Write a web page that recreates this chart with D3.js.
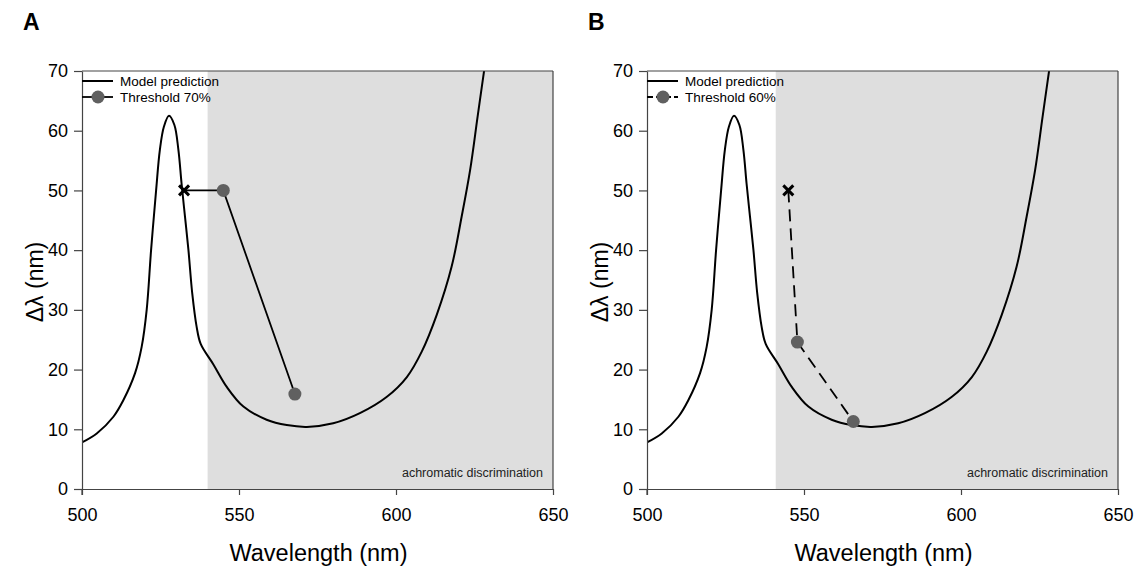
<!DOCTYPE html>
<html>
<head>
<meta charset="utf-8">
<script src="https://cdn.jsdelivr.net/npm/d3@7/dist/d3.min.js"></script>
<style>
  html, body { margin: 0; padding: 0; background: #fff; }
  svg text { font-family: "Liberation Sans", Arial, sans-serif; }
</style>
</head>
<body>
<svg id="chart" width="1140" height="568"></svg>
<script>
// ---------- data ----------
const modelWavelength = [500, 504.7, 510, 513.2, 516.9, 519, 520.6, 522, 523.6, 524.8, 526.1, 527.7, 529.4, 530.7, 531.7, 532.8, 533.9, 535.1, 536.5, 537.8, 541.8, 546.1, 551.4, 558.8, 565.2, 571.6, 580, 588.5, 597, 603.4, 608.2, 613, 617.7, 620.9, 623.6, 626, 628.1];
const modelDelta      = [7.8, 9.3, 12.1, 14.9, 19.4, 23.8, 30, 40, 50, 56.8, 60.7, 62.5, 61, 56.8, 51.2, 45.6, 40, 32.8, 27.2, 24.3, 20.9, 17.1, 13.8, 11.6, 10.7, 10.4, 11.0, 12.7, 15.4, 18.7, 23.0, 29.2, 37.2, 45.6, 53.4, 62.4, 70.2];

const panelLabels = ["A", "B"];
const thresholdLabels = ["Threshold 70%", "Threshold 60%"];
const thresholdWavelengthA = [532.5, 545, 567.8];
const thresholdDeltaA      = [50, 50, 15.9];
const thresholdWavelengthB = [545, 547.9, 565.7];
const thresholdDeltaB      = [50, 24.6, 11.3];
const achromaticStart = [540, 541];

const xTicks = [500, 550, 600, 650];
const yTicks = [0, 10, 20, 30, 40, 50, 60, 70];

// ---------- layout ----------
const svg = d3.select("#chart");
const W = 471, H = 418;
const panels = [
  { left: 82, top: 71, label: panelLabels[0], thr: thresholdLabels[0],
    wl: thresholdWavelengthA, dl: thresholdDeltaA, shade: achromaticStart[0], dashed: false },
  { left: 647, top: 71, label: panelLabels[1], thr: thresholdLabels[1],
    wl: thresholdWavelengthB, dl: thresholdDeltaB, shade: achromaticStart[1], dashed: true }
];

const x = d3.scaleLinear().domain([500, 650]).range([0, W]);
const y = d3.scaleLinear().domain([0, 70]).range([H, 0]);
const model = modelWavelength.map((w, i) => [w, modelDelta[i]]);

const defs = svg.append("defs");
defs.append("clipPath").attr("id", "plotclip")
  .append("rect").attr("x", 0).attr("y", 0).attr("width", W).attr("height", H);

const axisColor = "#444";

panels.forEach((p, pi) => {
  const g = svg.append("g").attr("transform", `translate(${p.left},${p.top})`);

  // panel letter
  svg.append("text").attr("x", p.left - 59).attr("y", 30)
    .attr("font-size", 23).attr("font-weight", "bold").attr("fill", "#000")
    .text(p.label);

  // shaded region
  g.append("rect")
    .attr("x", x(p.shade)).attr("y", 0)
    .attr("width", x(650) - x(p.shade)).attr("height", H)
    .attr("fill", "#dedede");

  g.append("text")
    .attr("x", W - 10).attr("y", H - 12)
    .attr("text-anchor", "end").attr("font-size", 12.5).attr("fill", "#222")
    .text("achromatic discrimination");

  // model curve
  const line = d3.line().x(d => x(d[0])).y(d => y(d[1])).curve(d3.curveCatmullRom.alpha(0.5));
  g.append("path").datum(model)
    .attr("clip-path", "url(#plotclip)")
    .attr("d", line).attr("fill", "none")
    .attr("stroke", "#000").attr("stroke-width", 2);

  // threshold line
  const thr = p.wl.map((w, i) => [w, p.dl[i]]);
  g.append("path").datum(thr)
    .attr("d", d3.line().x(d => x(d[0])).y(d => y(d[1])))
    .attr("fill", "none").attr("stroke", "#000").attr("stroke-width", 1.8)
    .attr("stroke-dasharray", p.dashed ? "12,7" : null);

  // cross marker for first point
  const cx = x(thr[0][0]), cy = y(thr[0][1]), s = 5;
  g.append("path")
    .attr("d", `M${cx - s},${cy - s}L${cx + s},${cy + s}M${cx - s},${cy + s}L${cx + s},${cy - s}`)
    .attr("stroke", "#000").attr("stroke-width", 3).attr("fill", "none");

  // circle markers
  g.selectAll("circle.pt").data(thr.slice(1)).enter().append("circle")
    .attr("class", "pt")
    .attr("cx", d => x(d[0])).attr("cy", d => y(d[1])).attr("r", 6.5)
    .attr("fill", "#606060");

  // frame (top and right)
  g.append("line").attr("x1", 0).attr("x2", W).attr("y1", 0).attr("y2", 0)
    .attr("stroke", axisColor).attr("stroke-width", 1.2);
  g.append("line").attr("x1", W).attr("x2", W).attr("y1", 0).attr("y2", H)
    .attr("stroke", axisColor).attr("stroke-width", 1.2);

  // axes
  const xAxis = g.append("g").attr("transform", `translate(0,${H})`)
    .call(d3.axisBottom(x).tickValues(xTicks).tickSize(6).tickPadding(13).tickSizeOuter(0));
  const yAxis = g.append("g")
    .call(d3.axisLeft(y).tickValues(yTicks).tickSize(8).tickPadding(6).tickSizeOuter(0));
  [xAxis, yAxis].forEach(a => {
    a.select(".domain").attr("stroke", axisColor).attr("stroke-width", 1.2);
    a.selectAll(".tick line").attr("stroke", axisColor).attr("stroke-width", 1.2);
    a.selectAll(".tick text").attr("font-size", 18).attr("fill", "#000")
      .attr("font-family", "'Liberation Sans', Arial, sans-serif");
  });
  // y axis extends to meet the x tick at 500
  g.append("line").attr("x1", 0).attr("x2", 0).attr("y1", H).attr("y2", H + 6)
    .attr("stroke", axisColor).attr("stroke-width", 1.2);

  // axis titles
  g.append("text")
    .attr("x", W / 2 + 1).attr("y", H + 72)
    .attr("text-anchor", "middle").attr("font-size", 23.5).attr("fill", "#000")
    .text("Wavelength (nm)");
  g.append("text")
    .attr("transform", `translate(-39,${H / 2 + 2}) rotate(-90)`)
    .attr("text-anchor", "middle").attr("font-size", 23).attr("fill", "#000")
    .text("Δλ (nm)");

  // legend
  const lg = g.append("g");
  lg.append("line").attr("x1", 0).attr("x2", 31).attr("y1", 10).attr("y2", 10)
    .attr("stroke", "#000").attr("stroke-width", 2);
  lg.append("text").attr("x", 38).attr("y", 10).attr("dy", "0.35em")
    .attr("font-size", 13.5).attr("fill", "#000").text("Model prediction");
  lg.append("line").attr("x1", 0).attr("x2", 31).attr("y1", 26).attr("y2", 26)
    .attr("stroke", "#000").attr("stroke-width", 1.8)
    .attr("stroke-dasharray", p.dashed ? "6,3" : null);
  lg.append("circle").attr("cx", 16).attr("cy", 26).attr("r", 6.5).attr("fill", "#606060");
  lg.append("text").attr("x", 38).attr("y", 26).attr("dy", "0.35em")
    .attr("font-size", 13.5).attr("fill", "#000").text(p.thr);
});
</script>
</body>
</html>
